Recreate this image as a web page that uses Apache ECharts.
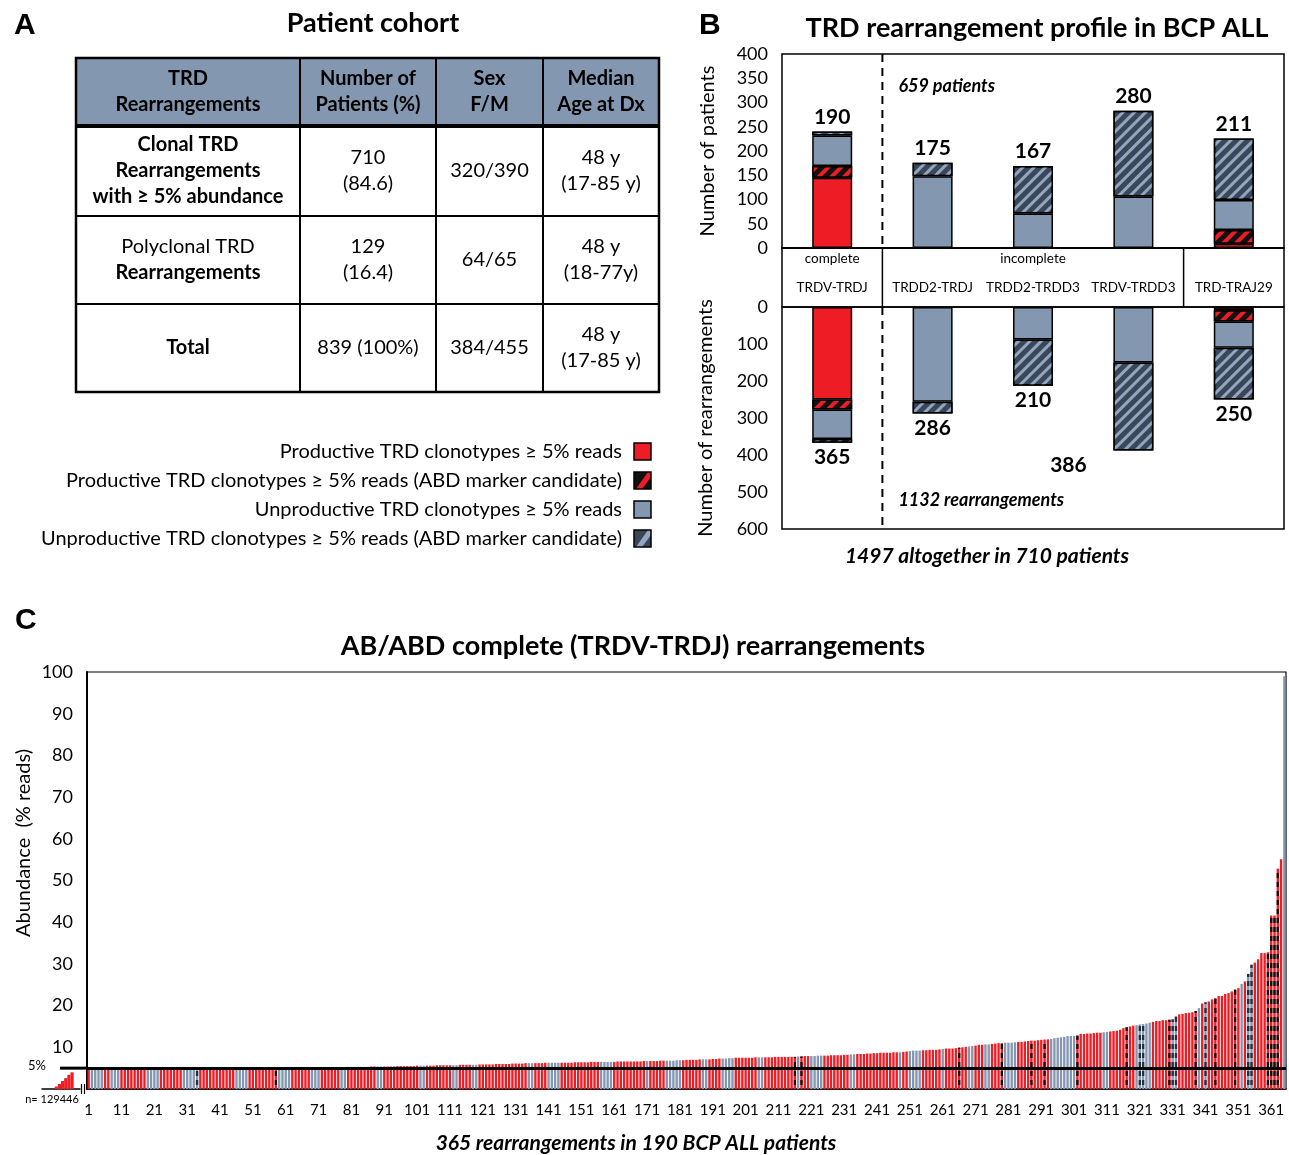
<!DOCTYPE html>
<html>
<head>
<meta charset="utf-8">
<script src="https://cdn.jsdelivr.net/npm/echarts@6/dist/echarts.min.js"></script>
<style>
  html, body { margin: 0; padding: 0; background: #fff; }
  #main { width: 1289px; height: 1155px; }
</style>
</head>
<body>
<div id="main"></div>
<script>
// ---------- data ----------
// panel A: cohort table
var cohortHeader = [['TRD', 'Rearrangements'], ['Number of', 'Patients (%)'], ['Sex', 'F/M'], ['Median', 'Age at Dx']];
var cohortRows = [
  [['Clonal TRD', 'Rearrangements', 'with ≥ 5% abundance'], ['710', '(84.6)'], ['320/390'], ['48 y', '(17-85 y)']],
  [['Polyclonal TRD', 'Rearrangements'], ['129', '(16.4)'], ['64/65'], ['48 y', '(18-77y)']],
  [['Total'], ['839 (100%)'], ['384/455'], ['48 y', '(17-85 y)']]
];
var cohortBold = [[1, 1, 1], [0, 1], [1]];
var legendLabels = [
  'Productive TRD clonotypes ≥ 5% reads',
  'Productive TRD clonotypes ≥ 5% reads (ABD marker candidate)',
  'Unproductive TRD clonotypes ≥ 5% reads',
  'Unproductive TRD clonotypes ≥ 5% reads (ABD marker candidate)'
];

// panel B: rearrangement profile
var profileCategories = ['TRDV-TRDJ', 'TRDD2-TRDJ', 'TRDD2-TRDD3', 'TRDV-TRDD3', 'TRD-TRAJ29'];
var patientsProd      = [145, 0, 0, 0, 9];
var patientsProdAbd   = [24, 0, 0, 0, 28];
var patientsUnprod    = [63, 148, 71, 106, 62];
var patientsUnprodAbd = [8, 28, 98, 177, 127];
var patientLabels     = [190, 175, 167, 280, 211];
var rearrProd      = [250, 0, 0, 0, 9];
var rearrProdAbd   = [27, 0, 0, 0, 30];
var rearrUnprod    = [80, 256, 88, 150, 71];
var rearrUnprodAbd = [10, 32, 125, 238, 140];
var rearrLabels    = [365, 286, 210, 386, 250];

// panel C: abundance (% reads) of the 365 complete rearrangements, sorted
var abundance = [
  5.0,5.0,5.0,5.0,5.0,5.0,5.0,5.0,5.0,5.0,
  5.0,5.0,5.0,5.0,5.0,5.0,5.0,5.0,5.0,5.0,
  5.0,5.0,5.0,5.0,5.0,5.1,5.1,5.1,5.1,5.1,
  5.1,5.1,5.1,5.1,5.1,5.1,5.1,5.1,5.1,5.1,
  5.1,5.1,5.1,5.1,5.1,5.1,5.1,5.1,5.1,5.1,
  5.1,5.1,5.1,5.2,5.2,5.2,5.2,5.2,5.2,5.2,
  5.2,5.2,5.2,5.2,5.2,5.2,5.2,5.2,5.2,5.2,
  5.2,5.2,5.2,5.2,5.2,5.2,5.2,5.2,5.3,5.3,
  5.3,5.3,5.3,5.3,5.3,5.3,5.4,5.4,5.4,5.4,
  5.4,5.4,5.4,5.4,5.5,5.5,5.5,5.5,5.5,5.5,
  5.6,5.6,5.6,5.6,5.6,5.6,5.7,5.7,5.7,5.7,
  5.7,5.7,5.7,5.8,5.8,5.8,5.8,5.8,5.8,5.9,
  5.9,5.9,5.9,5.9,6.0,6.0,6.0,6.0,6.0,6.1,
  6.1,6.1,6.1,6.2,6.2,6.2,6.2,6.2,6.2,6.3,
  6.3,6.3,6.3,6.3,6.3,6.3,6.3,6.3,6.4,6.4,
  6.4,6.4,6.4,6.5,6.5,6.5,6.5,6.5,6.5,6.5,
  6.5,6.6,6.6,6.6,6.6,6.6,6.6,6.6,6.6,6.7,
  6.7,6.7,6.7,6.7,6.8,6.8,6.8,6.8,6.8,6.9,
  6.9,6.9,7.0,7.0,7.0,7.0,7.1,7.1,7.1,7.1,
  7.2,7.2,7.3,7.3,7.3,7.4,7.4,7.5,7.5,7.5,
  7.5,7.5,7.5,7.6,7.6,7.6,7.6,7.6,7.6,7.7,
  7.7,7.7,7.7,7.7,7.7,7.7,7.8,7.8,7.9,7.9,
  7.9,7.9,8.0,8.0,8.0,8.0,8.1,8.1,8.1,8.1,
  8.2,8.2,8.3,8.3,8.4,8.4,8.4,8.5,8.5,8.6,
  8.6,8.7,8.7,8.7,8.7,8.8,8.8,8.8,8.9,9.0,
  9.1,9.2,9.2,9.2,9.3,9.3,9.4,9.4,9.4,9.5,
  9.6,9.7,9.7,9.7,9.8,9.9,10.0,10.1,10.2,10.3,
  10.4,10.6,10.6,10.7,10.7,10.8,10.9,11.0,11.0,11.1,
  11.1,11.1,11.2,11.3,11.3,11.4,11.5,11.6,11.6,11.7,
  11.8,11.8,11.9,12.0,12.2,12.3,12.4,12.5,12.7,12.7,
  12.7,12.8,13.2,13.2,13.3,13.3,13.4,13.5,13.5,13.6,
  13.7,13.8,13.9,14.0,14.2,14.6,14.8,15.0,15.2,15.3,
  15.5,15.6,15.7,15.9,16.1,16.3,16.3,16.5,16.5,16.6,
  16.7,17.5,17.9,18.0,18.2,18.3,18.4,18.7,19.4,20.5,
  20.8,21.0,21.5,21.8,22.3,22.3,22.8,23.0,23.4,23.9,
  24.2,25.2,25.8,27.6,29.8,30.3,31.1,32.6,32.6,32.8,
  41.6,41.6,52.8,55.1,99.0
];
// r productive, R productive ABD candidate, b unproductive, B unproductive ABD candidate
var clonotypeTypes = [
  'rbbbbrrbbb', 'rrrrrrrrbb', 'bbrrrrrrrb', 'bbbBrrrrrr', 'rrrrrbbbbr',
  'rrrrrrrRbb', 'bbrrrrrrbb', 'brrrrrrbbr', 'rrrrrrrrbb', 'rrrrrrrrrr',
  'rbbrrrrrrr', 'rbbrrrrbbr', 'rrrrrrrrrr', 'rrrrbbrrrr', 'bbbbrrrrrr',
  'rrrrrrbbbb', 'rrrrrrrrrr', 'brrrrrbbbb', 'brrrrrrbbr', 'rrrbbbbrrr',
  'rrrrbbrrrr', 'rrrrrRbRrr', 'bbbbrrrrrr', 'rrbbrrrrrr', 'rrrrrrrbrr',
  'bbbbrrrrrr', 'brrrrRrrbb', 'rrrbbrrrRb', 'bbbrrrrRrr', 'rRrbbbbbbb',
  'bRrrrrrrrb', 'brrrrrRrrb', 'BBbbrrrrrR', 'BBrrrrrRbr', 'BrrRrrrrrR',
  'rbrBBrrrrR', 'RRRrb'
].join('');
// reads below 5% for the remaining clonotypes (small staircase at the left)
var belowThreshold = [0, 0, 0, 0, 0.6, 1.2, 1.9, 2.6, 3.4, 4.0, 0, 0];

// ---------- styles ----------
var RED = '#ee1c24', BLUE = '#8497b0', DARK = '#3a4759';
var FONT = 'Lato';

function stripes(color, w, gap) {
  return { symbol: 'rect', symbolSize: 1, symbolKeepAspect: false,
    dashArrayX: [1, 0], dashArrayY: [w, gap], rotation: -Math.PI / 4, color: color };
}
function dashes(color) {
  return { symbol: 'rect', symbolSize: 1, symbolKeepAspect: false,
    dashArrayX: [1, 0], dashArrayY: [5, 4], rotation: 0, color: color };
}
var segStyles = [
  { color: RED },
  { color: '#111', decal: stripes(RED, 4, 5) },
  { color: BLUE },
  { color: DARK, decal: stripes('#93a6c0', 2.5, 5) }
];

function profileSeries(values, style, stack, axis) {
  return {
    type: 'bar', stack: stack, xAxisIndex: axis, yAxisIndex: axis, barWidth: 40,
    data: values.map(function (v) { return v === 0 ? null : v; }),
    itemStyle: Object.assign({ borderColor: '#000', borderWidth: 1.5 }, style),
    silent: true
  };
}

var topSeries = [patientsProd, patientsProdAbd, patientsUnprod, patientsUnprodAbd].map(function (d, i) {
  return profileSeries(d, segStyles[i], 'patients', 0);
});
topSeries[3].label = {
  show: true, position: 'top', distance: 4, color: '#000',
  fontFamily: FONT, fontWeight: 'bold', fontSize: 21,
  formatter: function (p) { return patientLabels[p.dataIndex]; }
};
var botSeries = [rearrProd, rearrProdAbd, rearrUnprod, rearrUnprodAbd].map(function (d, i) {
  return profileSeries(d, segStyles[i], 'rearr', 1);
});
botSeries[3].data[3] = { value: rearrUnprodAbd[3], label: { offset: [-65, 0] } };
botSeries[3].label = {
  show: true, position: 'bottom', distance: 4, color: '#000',
  fontFamily: FONT, fontWeight: 'bold', fontSize: 21,
  formatter: function (p) { return rearrLabels[p.dataIndex]; }
};

var abundanceItems = abundance.map(function (v, i) {
  var t = clonotypeTypes.charAt(i);
  var st;
  if (t === 'r') st = { color: RED };
  else if (t === 'b') st = { color: BLUE };
  else if (t === 'R') st = { color: RED, decal: dashes('#111') };
  else st = { color: BLUE, decal: dashes('#26303d') };
  return { value: v, itemStyle: st };
});
var rankLabels = abundance.map(function (v, i) { return String(i + 1); });

var axisText = { color: '#000', fontFamily: FONT };

var chart = echarts.init(document.getElementById('main'));
var option = {
  animation: false,
  backgroundColor: '#fff',
  textStyle: { fontFamily: FONT, color: '#000' },
  title: [
    { text: 'A', left: 9, top: 6, textStyle: { fontFamily: 'Liberation Sans', fontWeight: 'bold', fontSize: 30, color: '#000' } },
    { text: 'B', left: 694, top: 6, textStyle: { fontFamily: 'Liberation Sans', fontWeight: 'bold', fontSize: 30, color: '#000' } },
    { text: 'C', left: 10, top: 601, textStyle: { fontFamily: 'Liberation Sans', fontWeight: 'bold', fontSize: 30, color: '#000' } },
    { text: 'Patient cohort', left: 368, top: 5, textAlign: 'center', textStyle: { fontFamily: FONT, fontWeight: 'bold', fontSize: 27, color: '#000' } },
    { text: 'TRD rearrangement profile in BCP ALL', left: 1032, top: 10, textAlign: 'center', textStyle: { fontFamily: FONT, fontWeight: 'bold', fontSize: 27, color: '#000' } },
    { text: 'AB/ABD complete (TRDV-TRDJ) rearrangements', left: 628, top: 628, textAlign: 'center', textStyle: { fontFamily: FONT, fontWeight: 'bold', fontSize: 27, color: '#000' } }
  ],
  grid: [
    { left: 782, right: 5, top: 54, height: 194, show: true, borderColor: '#000', borderWidth: 1.5 },
    { left: 782, right: 5, top: 307, height: 222, show: true, borderColor: '#000', borderWidth: 1.5 },
    { left: 87, right: 3, top: 672, bottom: 66, show: true, borderColor: '#000', borderWidth: 1.2 },
    { left: 42, width: 38, top: 672, bottom: 66 }
  ],
  xAxis: [
    { gridIndex: 0, type: 'category', data: profileCategories,
      axisLine: { lineStyle: { color: '#000', width: 1.5 } }, axisTick: { show: false },
      axisLabel: Object.assign({ fontSize: 13.5, margin: 33, interval: 0 }, axisText) },
    { gridIndex: 1, type: 'category', data: profileCategories, position: 'bottom',
      axisLine: { show: false }, axisTick: { show: false }, axisLabel: { show: false } },
    { gridIndex: 2, type: 'category', data: rankLabels,
      axisLine: { lineStyle: { color: '#000', width: 1.5 } }, axisTick: { show: false },
      axisLabel: Object.assign({ fontSize: 15, margin: 14, interval: 9 }, axisText) },
    { gridIndex: 3, type: 'category', data: belowThreshold.map(function (v, i) { return i; }),
      axisLine: { lineStyle: { color: '#000', width: 1.5 } }, axisTick: { show: false }, axisLabel: { show: false } }
  ],
  yAxis: [
    { gridIndex: 0, type: 'value', min: 0, max: 400, interval: 50,
      axisLine: { show: false }, axisTick: { show: false }, splitLine: { show: false },
      axisLabel: Object.assign({ fontSize: 18, margin: 14 }, axisText),
      name: 'Number of patients', nameLocation: 'middle', nameGap: 64,
      nameTextStyle: { fontFamily: FONT, fontSize: 20, color: '#000' } },
    { gridIndex: 1, type: 'value', min: 0, max: 600, interval: 100, inverse: true,
      axisLine: { show: false }, axisTick: { show: false }, splitLine: { show: false },
      axisLabel: Object.assign({ fontSize: 18, margin: 14 }, axisText),
      name: 'Number of rearrangements', nameLocation: 'middle', nameGap: 66,
      nameTextStyle: { fontFamily: FONT, fontSize: 20, color: '#000' } },
    { gridIndex: 2, type: 'value', min: 0, max: 100, interval: 10,
      axisLine: { show: true, lineStyle: { color: '#000', width: 2 } }, axisTick: { show: false }, splitLine: { show: false },
      axisLabel: Object.assign({ fontSize: 18, margin: 14, formatter: function (v) { return v === 0 ? '' : v; } }, axisText) },
    { gridIndex: 3, type: 'value', min: 0, max: 100, show: false }
  ],
  series: topSeries.concat(botSeries).concat([
    { type: 'bar', xAxisIndex: 2, yAxisIndex: 2, barCategoryGap: '28%', data: abundanceItems, silent: true,
      markLine: { silent: true, symbol: ['none', 'none'], label: { show: false },
        lineStyle: { color: '#000', width: 3, type: 'solid' }, data: [{ yAxis: 5 }] } },
    { type: 'bar', xAxisIndex: 3, yAxisIndex: 3, barCategoryGap: 0, data: belowThreshold,
      itemStyle: { color: RED }, silent: true }
  ])
};
chart.setOption(option);

// ---------- annotations (table, legend, separators) ----------
var g = [];
function txt(x, y, s, size, opt) {
  opt = opt || {};
  g.push({ type: 'text', x: x, y: y, rotation: opt.rotation || 0, silent: true, z: 10, style: {
    text: s, fontFamily: FONT, fontSize: size, fontWeight: opt.bold ? 'bold' : 'normal',
    fontStyle: opt.italic ? 'italic' : 'normal', fill: '#000',
    align: opt.align || 'center', verticalAlign: 'middle' } });
}
function line(x1, y1, x2, y2, w, dash) {
  g.push({ type: 'line', silent: true, z: 10, shape: { x1: x1, y1: y1, x2: x2, y2: y2 },
    style: { stroke: '#000', lineWidth: w, lineDash: dash || null } });
}

// table
var colX = [76, 300, 436, 543, 659];
var rowY = [58, 126, 216, 304, 392];
var LH = 26;
g.push({ type: 'rect', silent: true, shape: { x: colX[0], y: rowY[0], width: colX[4] - colX[0], height: rowY[1] - rowY[0] },
  style: { fill: BLUE } });
cohortHeader.forEach(function (lines, c) {
  var cx = (colX[c] + colX[c + 1]) / 2, cy = (rowY[0] + rowY[1]) / 2;
  lines.forEach(function (s, k) { txt(cx, cy + (k - (lines.length - 1) / 2) * LH, s, 20, { bold: true }); });
});
cohortRows.forEach(function (row, r) {
  var cy = (rowY[r + 1] + rowY[r + 2]) / 2;
  row.forEach(function (lines, c) {
    var cx = (colX[c] + colX[c + 1]) / 2;
    lines.forEach(function (s, k) {
      txt(cx, cy + (k - (lines.length - 1) / 2) * LH, s, 20, { bold: c === 0 && cohortBold[r][k] === 1 });
    });
  });
});
for (var i = 1; i < 4; i++) line(colX[i], rowY[0], colX[i], rowY[4], 2);
line(colX[0], rowY[1], colX[4], rowY[1], 4);
line(colX[0], rowY[2], colX[4], rowY[2], 2);
line(colX[0], rowY[3], colX[4], rowY[3], 2);
g.push({ type: 'rect', silent: true, z: 11, shape: { x: colX[0], y: rowY[0], width: colX[4] - colX[0], height: rowY[4] - rowY[0] },
  style: { fill: null, stroke: '#000', lineWidth: 2.5 } });

// legend of panel A
var legY = [452, 481, 510, 539];
var swatchFill = [RED, '#111', BLUE, DARK];
var stripeFill = [null, RED, null, '#93a6c0'];
legendLabels.forEach(function (s, i) {
  txt(622, legY[i], s, 20, { align: 'right' });
  var x = 634, y = legY[i] - 9;
  g.push({ type: 'rect', silent: true, shape: { x: x, y: y, width: 17, height: 17 }, style: { fill: swatchFill[i] } });
  if (stripeFill[i]) {
    g.push({ type: 'polygon', silent: true, shape: { points: [[x + 2, y + 17], [x + 8, y + 17], [x + 17, y + 5], [x + 17, y + 0], [x + 14, y + 0]] },
      style: { fill: stripeFill[i] } });
  }
  g.push({ type: 'rect', silent: true, shape: { x: x, y: y, width: 17, height: 17 }, style: { fill: null, stroke: '#000', lineWidth: 1.5 } });
});

// panel B frame for the category labels
var yTopTop = chart.convertToPixel({ yAxisIndex: 0 }, 400);
var yTop0 = chart.convertToPixel({ yAxisIndex: 0 }, 0);
var yBot0 = chart.convertToPixel({ yAxisIndex: 1 }, 0);
var yBotEnd = chart.convertToPixel({ yAxisIndex: 1 }, 600);
function catX(k) { return chart.convertToPixel({ xAxisIndex: 0 }, profileCategories[k]); }
var band = catX(1) - catX(0);
var boxL = catX(0) - band / 2, boxR = catX(4) + band / 2;
g.push({ type: 'rect', silent: true, shape: { x: boxL, y: yTop0, width: boxR - boxL, height: yBot0 - yTop0 },
  style: { fill: null, stroke: '#000', lineWidth: 1.5 } });
var sep1 = (catX(0) + catX(1)) / 2, sep2 = (catX(3) + catX(4)) / 2;
line(sep1, yTopTop, sep1, yTop0, 2, [8, 6]);
line(sep1, yTop0, sep1, yBot0, 1.5);
line(sep1, yBot0, sep1, yBotEnd, 2, [8, 6]);
line(sep2, yTop0, sep2, yBot0, 1.5);
txt(catX(0), yTop0 + 11, 'complete', 13.5);
txt(catX(2), yTop0 + 11, 'incomplete', 13.5);
txt(sep1 + 16, 86, '659 patients', 18, { bold: true, italic: true, align: 'left' });
txt(sep1 + 16, 500, '1132 rearrangements', 18, { bold: true, italic: true, align: 'left' });
txt(987, 556, '1497 altogether in 710 patients', 21, { bold: true, italic: true });

// panel C: axis titles, threshold line extension and the below-threshold inset
var y5 = chart.convertToPixel({ yAxisIndex: 2 }, 5);
var y0 = chart.convertToPixel({ yAxisIndex: 2 }, 0);
var axisX = chart.convertToPixel({ xAxisIndex: 2 }, '1') - 1.6;
txt(24, 843, 'Abundance  (% reads)', 20, { rotation: Math.PI / 2 });
txt(636, 1143, '365 rearrangements in 190 BCP ALL patients', 21, { bold: true, italic: true });
line(60, y5, axisX, y5, 3);
txt(37, y5 - 2, '5%', 13);
txt(52, y0 + 10, 'n= 129446', 11);
line(81.5, y0 - 5, 81.5, y0 + 5, 1.2);
line(84.5, y0 - 5, 84.5, y0 + 5, 1.2);

chart.setOption({ graphic: g });
</script>
</body>
</html>
